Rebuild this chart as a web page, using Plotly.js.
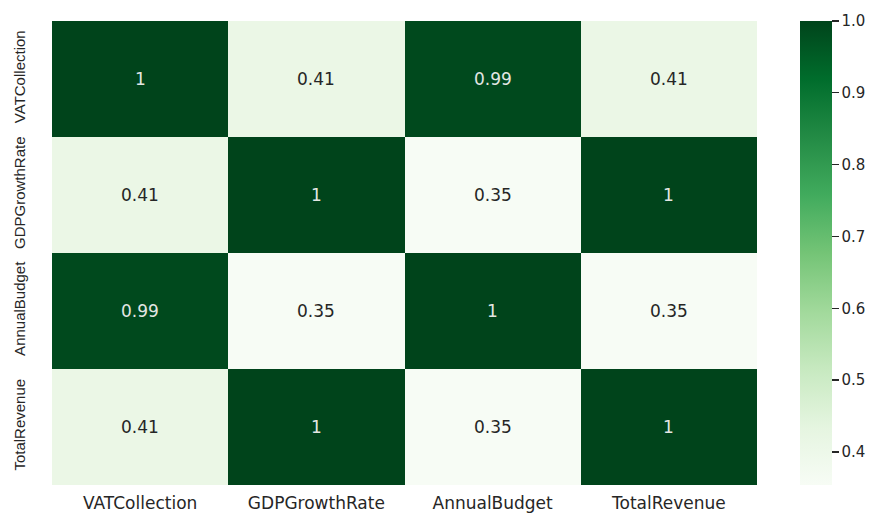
<!DOCTYPE html>
<html><head><meta charset="utf-8">
<script src="https://cdn.plot.ly/plotly-3.0.1.min.js"></script>
<style>html,body{margin:0;padding:0;background:#fff;}</style>
</head><body>
<div id="chart" style="width:882px;height:514px;"></div>
<script>
var labels = ["VATCollection", "GDPGrowthRate", "AnnualBudget", "TotalRevenue"];
var rowVAT = [1.0, 0.41, 0.99, 0.41];
var rowGDP = [0.41, 1.0, 0.354, 1.0];
var rowBudget = [0.99, 0.354, 1.0, 0.354];
var rowRevenue = [0.41, 1.0, 0.354, 1.0];
var matrix = [rowVAT, rowGDP, rowBudget, rowRevenue];
var colorbarTicks = [0.4, 0.5, 0.6, 0.7, 0.8, 0.9, 1.0];

var greens = [
  [0.0, "#f7fcf5"], [0.125, "#e5f5e0"], [0.25, "#c7e9c0"], [0.375, "#a1d99b"],
  [0.5, "#74c476"], [0.625, "#41ab5d"], [0.75, "#238b45"], [0.875, "#006d2c"], [1.0, "#00441b"]
];
var zmin = 0.354, zmax = 1.0;
var wideFont = "DejaVu Sans, Verdana, sans-serif";

function fmt(v){ return String(Number(v.toPrecision(2))); }

var annotations = [];
for (var i = 0; i < matrix.length; i++) {
  for (var j = 0; j < matrix[i].length; j++) {
    var v = matrix[i][j];
    var frac = (v - zmin) / (zmax - zmin);
    annotations.push({
      x: labels[j], y: labels[i], xref: "x", yref: "y",
      text: fmt(v), showarrow: false,
      font: {family: wideFont, size: 17,
             color: frac > 0.6 ? "#e3e6e3" : "#262626"}
    });
  }
}

var trace = {
  type: "heatmap",
  x: labels, y: labels, z: matrix,
  colorscale: greens, zmin: zmin, zmax: zmax,
  hoverinfo: "skip",
  colorbar: {
    x: 1.061, xanchor: "left", xpad: 0, ypad: 0,
    thickness: 32, thicknessmode: "pixels",
    len: 1, lenmode: "fraction", y: 0.5, yanchor: "middle",
    outlinewidth: 0,
    tickvals: colorbarTicks, ticktext: colorbarTicks.map(function(t){return t.toFixed(1);}),
    ticks: "outside", ticklen: 7, tickwidth: 1.3, tickcolor: "#262626",
    tickfont: {family: wideFont, size: 15, color: "#262626"}
  }
};

var layout = {
  width: 882, height: 514,
  margin: {l: 52, r: 125, t: 21, b: 29},
  paper_bgcolor: "#ffffff", plot_bgcolor: "#ffffff",
  xaxis: {
    type: "category", showgrid: false, zeroline: false, showline: false,
    ticks: "outside", ticklen: 3, tickcolor: "rgba(0,0,0,0)",
    tickfont: {family: wideFont, size: 17, color: "#262626"}
  },
  yaxis: {
    type: "category", autorange: "reversed", showgrid: false, zeroline: false, showline: false,
    ticks: "outside", ticklen: 20, tickcolor: "rgba(0,0,0,0)", tickangle: -90,
    tickfont: {family: "Liberation Sans, Arial, sans-serif", size: 15, color: "#262626"}
  },
  annotations: annotations,
  showlegend: false
};

Plotly.newPlot("chart", [trace], layout, {displayModeBar: false, staticPlot: true});
</script>
</body></html>
